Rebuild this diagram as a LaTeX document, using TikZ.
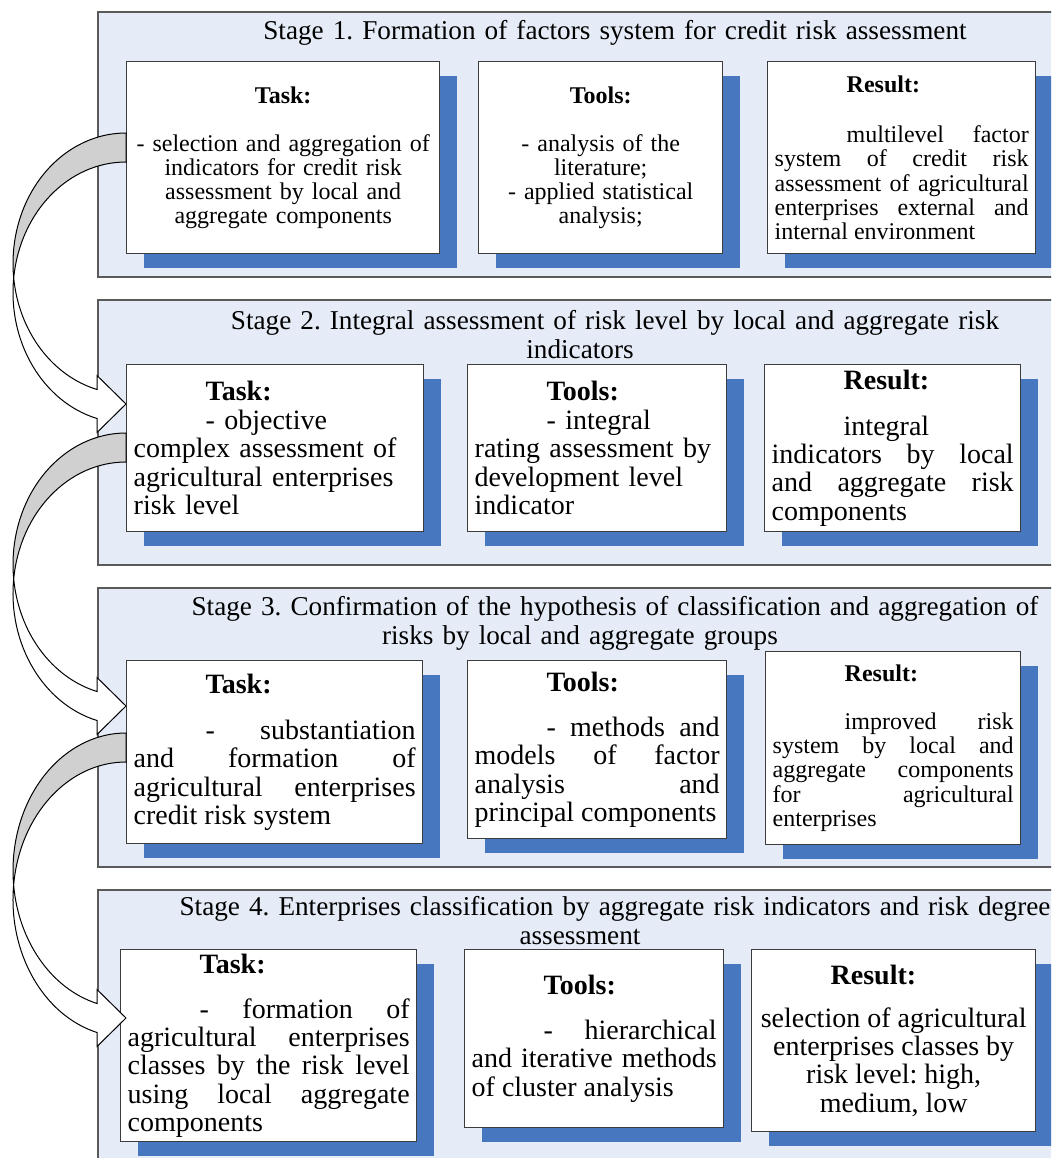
\documentclass[tikz,border=0pt]{standalone}
\usepackage{fontspec}
\setmainfont{Liberation Serif}
\usetikzlibrary{shadows}
\frenchspacing
\hyphenpenalty=10000
\exhyphenpenalty=10000

\definecolor{panelfill}{RGB}{229,236,247}
\definecolor{panelline}{RGB}{90,90,90}
\definecolor{boxline}{RGB}{60,60,60}
\definecolor{shadowblue}{RGB}{70,119,191}
\definecolor{arrowgray}{RGB}{208,208,208}

\newcommand\boxfont{\fontsize{14}{14.2}\selectfont}
\newcommand\boxfontsm{\fontsize{12}{12.1}\selectfont}

% curved block arrow: #1 box it leaves, #2 top of band, #3 tip (both below the box corner)
\newcommand\bendarrow[3]{%
  \begin{scope}[shift={(#1.north west)}]
    \pgfmathsetmacro\bry{(#3-14.5-#2)/1.9665}
    \pgfmathsetmacro\bdel{asin(14.5/\bry)}
    \filldraw[arrowline, fill=arrowgray] (0,#2)
      arc[start angle=270, end angle=180-\bdel, x radius=113, y radius=\bry]
      arc[start angle=180+\bdel, end angle=270, x radius=113, y radius=\bry] -- cycle;
    \filldraw[arrowline, fill=white] (0,#3) -- (-29,#3+28.5) -- (-29,#3+14.5)
      arc[start angle=104.87, end angle=180+\bdel, x radius=113, y radius=\bry]
      arc[start angle=180-\bdel, end angle=104.87, x radius=113, y radius=\bry]
      -- (-29,#3-28.5) -- cycle;
  \end{scope}}

\begin{document}
\begin{tikzpicture}[x=0.5pt, y=-0.5pt,
    panel/.style={draw=panelline, fill=panelfill, line width=0.7pt},
    title/.style={text width=540pt, align=center, inner sep=0pt, anchor=base,
      font=\fontsize{13.6}{14.6}\selectfont},
    card/.style={draw=boxline, fill=white, line width=0.7pt, anchor=north west,
      inner xsep=3.5pt, inner ysep=1pt, align=justify,
      drop shadow={shadow xshift=8.5pt, shadow yshift=-7pt, fill=shadowblue, opacity=1}},
    arrowline/.style={draw=black, line width=0.5pt}]
\useasboundingbox (0,0) rectangle (1051,1158);
\clip (0,0) rectangle (1051,1158);
\fill[white] (0,0) rectangle (1051,1158);

% stage panels
\draw[panel] (98,12) rectangle (1070,277);
\draw[panel] (98,300) rectangle (1070,565);
\draw[panel] (98,588) rectangle (1070,867);
\draw[panel] (98,890) rectangle (1070,1180);

\node[title] (stage1) at (580,39) {\hspace*{35pt}Stage 1. Formation of factors system for credit risk assessment};
\node[title] (stage2) at (580,329) {\hspace*{35pt}Stage 2. Integral assessment of risk level by local and aggregate risk\\indicators};
\node[title] (stage3) at (580,615) {\hspace*{35pt}Stage 3. Confirmation of the hypothesis of classification and aggregation of\\risks by local and aggregate groups};
\node[title] (stage4) at (580,915) {\hspace*{35pt}Stage 4. Enterprises classification by aggregate risk indicators and risk degree\\assessment};

% stage 1
\node[card, align=center, text width=149.5pt, minimum height=96pt, font=\boxfontsm] (task1) at (126,61)
  {\textbf{Task:}\\[12pt]- selection and aggregation of\\indicators for credit risk\\assessment by local and\\aggregate components};
\node[card, align=center, text width=115pt, minimum height=96pt, font=\boxfontsm] (tools1) at (478,61)
  {\textbf{Tools:}\\[12pt]- analysis of the\\literature;\\- applied statistical\\analysis;};
\node[card, text width=127pt, minimum height=96pt, font=\boxfontsm] (result1) at (767,61)
  {\hspace*{36pt}\textbf{Result:}\par\vspace{13pt}\hspace*{36pt}multilevel factor\linebreak system of credit risk\linebreak assessment~of~agricultural\linebreak enterprises external and\linebreak internal environment};

% stage 2
\node[card, align=left, text width=141.5pt, minimum height=83.5pt, font=\boxfont] (task2) at (126,364)
  {\hspace*{36pt}\textbf{Task:}\\\hspace*{36pt}- objective\\complex assessment of\\agricultural enterprises\\risk level};
\node[card, align=left, text width=122.5pt, minimum height=83.5pt, font=\boxfont] (tools2) at (467,364)
  {\hspace*{36pt}\textbf{Tools:}\\\hspace*{36pt}- integral\\rating assessment by\\development level\\indicator};
\node[card, text width=121pt, minimum height=83.5pt, font=\boxfont] (result2) at (764,364)
  {\hspace*{36pt}\textbf{Result:}\par\vspace{8.5pt}\hspace*{36pt}integral\linebreak indicators by local\linebreak and aggregate risk\linebreak components};

% stage 3
\node[card, text width=141pt, minimum height=91.5pt, font=\boxfont] (task3) at (126,660)
  {\hspace*{36pt}\textbf{Task:}\par\vspace{8.8pt}\hspace*{36pt}- substantiation\linebreak and formation of\linebreak agricultural enterprises\linebreak credit risk system};
\node[card, text width=122.5pt, minimum height=89pt, font=\boxfont] (tools3) at (467,660)
  {\hspace*{36pt}\textbf{Tools:}\par\vspace{8.3pt}\hspace*{36pt}- methods and\linebreak models of factor\linebreak analysis and\linebreak principal~components};
\node[card, text width=120.5pt, minimum height=96.5pt, font=\boxfontsm] (result3) at (765,651)
  {\hspace*{36pt}\textbf{Result:}\par\vspace{11.9pt}\hspace*{36pt}improved risk\linebreak system by local and\linebreak aggregate components\linebreak for agricultural\linebreak enterprises};

% stage 4
\node[card, text width=141pt, minimum height=96pt, font=\boxfont] (task4) at (120,949)
  {\hspace*{36pt}\textbf{Task:}\par\vspace{8.3pt}\hspace*{36pt}- formation of\linebreak agricultural enterprises\linebreak classes by the risk level\linebreak using local aggregate\linebreak components};
\node[card, text width=122.5pt, minimum height=89pt, font=\boxfont] (tools4) at (464,949)
  {\hspace*{36pt}\textbf{Tools:}\par\vspace{8.3pt}\hspace*{36pt}- hierarchical\linebreak and~iterative~methods\linebreak of cluster analysis};
\node[card, text width=135pt, minimum height=91pt, font=\boxfont] (result4) at (751,949)
  {\hspace*{36pt}\textbf{Result:}\par\vspace{7.3pt}{\centering selection~of~agricultural\\enterprises classes by\\risk level: high,\\medium, low\par}};

% arrows between the task boxes
\bendarrow{task1}{72}{343}
\bendarrow{task2}{69}{342}
\bendarrow{task3}{73}{358}
\end{tikzpicture}
\end{document}
